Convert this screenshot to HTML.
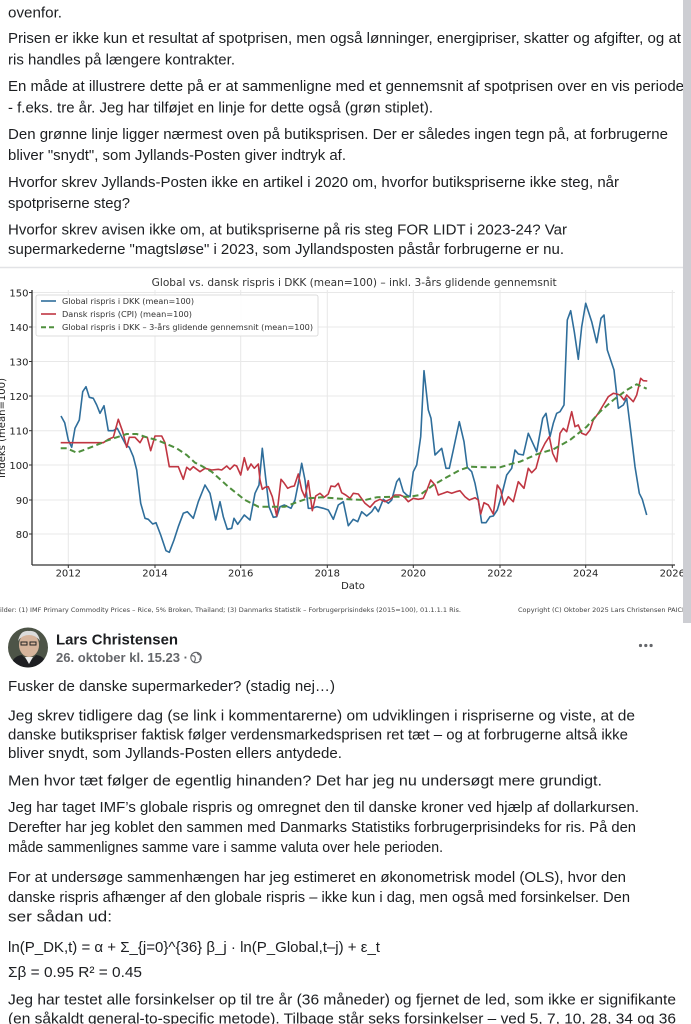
<!DOCTYPE html>
<html><head><meta charset="utf-8"><style>
html,body{margin:0;padding:0;background:#fff;}
svg{display:block;}
.t{font-family:"Liberation Sans",Arial,sans-serif;font-size:15px;fill:#1c1e21;}
.c{font-family:"DejaVu Sans","Liberation Sans",sans-serif;}
</style></head><body>
<svg width="691" height="1024" viewBox="0 0 691 1024" xmlns="http://www.w3.org/2000/svg">
<rect width="691" height="1024" fill="#fff"/>
<!-- top text -->
<g class="t">
<text x="8" y="17.5" textLength="54" lengthAdjust="spacingAndGlyphs">ovenfor.</text>
<text x="8" y="43" textLength="673" lengthAdjust="spacingAndGlyphs">Prisen er ikke kun et resultat af spotprisen, men også lønninger, energipriser, skatter og afgifter, og at</text>
<text x="8" y="64.5" textLength="227" lengthAdjust="spacingAndGlyphs">ris handles på længere kontrakter.</text>
<text x="8" y="91" textLength="676" lengthAdjust="spacingAndGlyphs">En måde at illustrere dette på er at sammenligne med et gennemsnit af spotprisen over en vis periode</text>
<text x="8" y="112.5" textLength="425" lengthAdjust="spacingAndGlyphs">- f.eks. tre år. Jeg har tilføjet en linje for dette også (grøn stiplet).</text>
<text x="8" y="139" textLength="660" lengthAdjust="spacingAndGlyphs">Den grønne linje ligger nærmest oven på butiksprisen. Der er således ingen tegn på, at forbrugerne</text>
<text x="8" y="160" textLength="338" lengthAdjust="spacingAndGlyphs">bliver "snydt", som Jyllands-Posten giver indtryk af.</text>
<text x="8" y="187" textLength="611" lengthAdjust="spacingAndGlyphs">Hvorfor skrev Jyllands-Posten ikke en artikel i 2020 om, hvorfor butikspriserne ikke steg, når</text>
<text x="8" y="208" textLength="122" lengthAdjust="spacingAndGlyphs">spotpriserne steg?</text>
<text x="8" y="234.5" textLength="559" lengthAdjust="spacingAndGlyphs">Hvorfor skrev avisen ikke om, at butikspriserne på ris steg FOR LIDT i 2023-24? Var</text>
<text x="8" y="254" textLength="556" lengthAdjust="spacingAndGlyphs">supermarkederne "magtsløse" i 2023, som Jyllandsposten påstår forbrugerne er nu.</text>
</g>
<line x1="0" y1="267.5" x2="691" y2="267.5" stroke="#e2e3e6" stroke-width="1.5"/>

<!-- chart -->
<g class="c">
<text x="151.7" y="286" font-size="10.5" fill="#333" textLength="405" lengthAdjust="spacingAndGlyphs">Global vs. dansk rispris i DKK (mean=100) – inkl. 3-års glidende gennemsnit</text>
<!-- grid -->
<g stroke="#e8e8e8" stroke-width="1">
<line x1="32" y1="292.5" x2="675" y2="292.5"/>
<line x1="32" y1="327" x2="675" y2="327"/>
<line x1="32" y1="361.5" x2="675" y2="361.5"/>
<line x1="32" y1="396" x2="675" y2="396"/>
<line x1="32" y1="430.7" x2="675" y2="430.7"/>
<line x1="32" y1="465" x2="675" y2="465"/>
<line x1="32" y1="500" x2="675" y2="500"/>
<line x1="32" y1="534" x2="675" y2="534"/>
<line x1="68.3" y1="290" x2="68.3" y2="565"/>
<line x1="155" y1="290" x2="155" y2="565"/>
<line x1="240.7" y1="290" x2="240.7" y2="565"/>
<line x1="327.3" y1="290" x2="327.3" y2="565"/>
<line x1="413.3" y1="290" x2="413.3" y2="565"/>
<line x1="500" y1="290" x2="500" y2="565"/>
<line x1="585.7" y1="290" x2="585.7" y2="565"/>
<line x1="672.3" y1="290" x2="672.3" y2="565"/>
</g>
<!-- spines -->
<line x1="32" y1="290" x2="32" y2="565" stroke="#333" stroke-width="1.3"/>
<line x1="32" y1="565" x2="675" y2="565" stroke="#333" stroke-width="1.3"/>
<g stroke="#333" stroke-width="1">
<line x1="29" y1="292.5" x2="32" y2="292.5"/><line x1="29" y1="327" x2="32" y2="327"/><line x1="29" y1="361.5" x2="32" y2="361.5"/><line x1="29" y1="396" x2="32" y2="396"/><line x1="29" y1="430.7" x2="32" y2="430.7"/><line x1="29" y1="465" x2="32" y2="465"/><line x1="29" y1="500" x2="32" y2="500"/><line x1="29" y1="534" x2="32" y2="534"/>
<line x1="68.3" y1="565" x2="68.3" y2="568"/><line x1="155" y1="565" x2="155" y2="568"/><line x1="240.7" y1="565" x2="240.7" y2="568"/><line x1="327.3" y1="565" x2="327.3" y2="568"/><line x1="413.3" y1="565" x2="413.3" y2="568"/><line x1="500" y1="565" x2="500" y2="568"/><line x1="585.7" y1="565" x2="585.7" y2="568"/><line x1="672.3" y1="565" x2="672.3" y2="568"/>
</g>
<g font-size="10" fill="#222" text-anchor="end">
<text x="28.5" y="296.5">150</text><text x="28.5" y="331">140</text><text x="28.5" y="365.5">130</text><text x="28.5" y="400">120</text><text x="28.5" y="434.7">110</text><text x="28.5" y="469">100</text><text x="28.5" y="504">90</text><text x="28.5" y="538">80</text>
</g>
<g font-size="10" fill="#222" text-anchor="middle">
<text x="68.3" y="576.5">2012</text><text x="155" y="576.5">2014</text><text x="240.7" y="576.5">2016</text><text x="327.3" y="576.5">2018</text><text x="413.3" y="576.5">2020</text><text x="500" y="576.5">2022</text><text x="585.7" y="576.5">2024</text><text x="672.3" y="576.5">2026</text>
<text x="353" y="589">Dato</text>
</g>
<text transform="translate(5,428) rotate(-90)" font-size="10" fill="#222" text-anchor="middle" textLength="100" lengthAdjust="spacingAndGlyphs">Indeks (mean=100)</text>

<!-- series -->
<polyline fill="none" stroke="#2f6e9b" stroke-width="1.6" stroke-linejoin="round" points="61,416 64.7,422.7 68.3,440 71.7,447.3 75,428.3 79.3,420 82.7,391.7 86,386.7 89.3,397.3 93.3,398.3 96.7,405 100,413.3 104,405.7 108.3,430.7 113.3,430.7 117.3,428.3 120.7,435 126,445 129.3,447.3 133.3,456.7 136.7,470 140.7,503.3 145,518.3 148.3,519.3 152.7,524 156,522.7 160.7,535 166,550.7 169.3,552.3 174,540 178.3,526.7 183.3,513.3 187.3,511.7 193.3,518.3 198.3,501.7 205,485 210,493.3 215.7,520 220,501.7 223.3,516.7 227.3,529.3 231.7,528.3 234,518.3 237.7,524.3 244.3,515 250,520 255,493.3 259,485 262.3,448.3 265.7,478.3 269,506.7 273.3,517.3 276.7,516.7 280,506.7 284.3,505 291,508.3 295,500 298.3,483.3 301.7,463.3 305,480 308.3,508.3 312.3,508.3 316.7,506.7 323.3,508.3 328.3,510 333.3,519.3 338.3,505 343.3,501.7 348.3,525.7 353.3,519.3 357.7,521.7 361.7,511.7 366.7,516 371.7,511.7 375,506.7 378.3,511.7 383.3,499.3 388.3,503.3 391.7,500 396.7,481.7 399.3,478.3 403.3,491.7 406.7,495 410,496.7 413.3,471.7 416.7,465 420.7,436.7 424,370.7 428.3,410 431,418.3 435,455 441.7,448.3 446,468.3 449.3,468.3 453.3,450 459.3,421.7 464,441.7 467.3,467.3 471.7,471.7 475,483.3 478.3,500 481.7,522.7 486,522.7 490,516.7 493.3,516 497.3,510 501.7,495 506.7,475 511.7,468.3 515,450 518.3,454 523.3,455 528.3,433.3 536.7,451.7 542.7,418.3 546,413.3 550,436.7 553.3,423.3 556.7,413.3 560,411.7 564,405 567.3,320 570.7,310.7 574.3,331.7 578.3,359.3 581.7,326.7 585.7,303.3 591.7,321.7 596.7,342.7 601,318.3 604,315 607.3,350 614,370 618.3,408.3 623.3,405 626.7,398.3 631,433.3 635,466.7 639.3,493.3 642.3,499.3 646.7,515"/>
<polyline fill="none" stroke="#c03642" stroke-width="1.6" stroke-linejoin="round" points="60.7,442.7 103.3,442.7 108.3,439.3 113.3,437.3 118.3,419.3 122.7,431.7 126.7,447.3 129.3,437.3 135,437.3 140,442.7 143.3,436.7 147.3,437.3 150.7,450.7 155,436 161.7,436 165,442.7 169.3,466.7 178.3,466.7 183.3,479.3 186.7,467.3 190,470 193.3,466.7 200,471.7 205,468.3 211.7,470 218.3,469.3 221.7,470 226.7,466 230,469.3 234.3,465 236.7,466 240.7,475 244.3,457.7 247.7,470 251,464 254.3,468.3 258.3,464 260,480 262.3,489.3 265,487.3 268.3,486.7 272.3,496.7 276.7,516 281,479.3 284.3,483.3 287.7,488.3 291,486.7 294.3,486 298.3,474 301.7,490 305,497.3 308.3,480.7 312.3,510.7 315.7,496 320,493.3 324.3,497.3 328.3,494 331,486 335,486.7 338.3,483.3 341.7,492.7 345.7,495 350,498.3 353.3,493.3 358.3,494 365,503.3 370,507.3 375,501.7 380,499.3 385,501.7 390,499.3 395,495 400,495 404,496.7 408.3,501.7 413.3,498.3 418.3,499.3 423.3,498.3 426.7,490.7 430.7,480 435,485 438.3,495 443.3,493.3 447.3,491.7 451.7,493.3 456,491.7 460,490.7 465,496.7 469.3,500 475,497.7 478.3,500 480.7,514 484,502.7 488.3,505 493.3,514 497.3,485 500.7,490 504,505 508.3,496.7 513.3,501.7 518.3,481.7 524,488.3 528.3,468.3 531.7,472.7 536,468.3 540,453.3 545,443.3 549.3,436.7 552.7,453.3 556.7,461.7 560,433.3 563.3,428.3 566.7,431.7 571.7,411.7 575,426.7 578.3,425 581.7,433.3 586,435 590,430 593.3,420 598.3,413.3 603.3,405 608.3,396.7 613.3,393.3 616.7,394 620,395 624,400 626.7,395 630,398.3 633.3,401.7 636.7,395 640.7,378.3 643.3,380.7 647.3,381"/>
<polyline fill="none" stroke="#4f8f3d" stroke-width="2" stroke-dasharray="6,3.5" stroke-linejoin="round" points="60.7,448.3 66.7,448.3 76.7,452.7 96.7,445 106.7,440.7 116.7,437.3 126.7,434 136.7,434 146.7,437.3 156.7,440 166.7,444 176.7,448.3 186.7,455 195,462.7 200,465 211.7,471.7 228.3,486.7 245,500 258.3,506.7 271.7,506.7 285,506.7 298.3,501.7 308.3,498.3 321.7,497.3 335,498.3 348.3,499.3 365,500 376.7,497.3 393.3,496.7 410,496.7 420,495 433.3,485 446.7,477.3 460,470 470,466.7 486.7,467.3 500,467.3 513.3,463.3 520,461.7 536.7,454.3 553.3,449.3 570,440 586.7,426.7 600,411.7 613.3,400 626.7,390 636.7,384.3 646.7,388.7"/>

<!-- legend -->
<rect x="36" y="295" width="282" height="41" rx="2" fill="#fff" fill-opacity="0.9" stroke="#d4d4d4" stroke-width="0.8"/>
<line x1="41" y1="301" x2="56" y2="301" stroke="#2f6e9b" stroke-width="1.6"/>
<line x1="41" y1="314" x2="56" y2="314" stroke="#c03642" stroke-width="1.6"/>
<line x1="41" y1="327.3" x2="57" y2="327.3" stroke="#4f8f3d" stroke-width="2" stroke-dasharray="5,3"/>
<g font-size="7.5" fill="#333">
<text x="62" y="303.8" textLength="132" lengthAdjust="spacingAndGlyphs">Global rispris i DKK (mean=100)</text>
<text x="62" y="316.8" textLength="130" lengthAdjust="spacingAndGlyphs">Dansk rispris (CPI) (mean=100)</text>
<text x="62" y="330" textLength="251" lengthAdjust="spacingAndGlyphs">Global rispris i DKK – 3-års glidende gennemsnit (mean=100)</text>
</g>
<!-- footer -->
<text x="0" y="612" font-size="6.3" fill="#444" textLength="461" lengthAdjust="spacingAndGlyphs">ilder: (1) IMF Primary Commodity Prices – Rice, 5% Broken, Thailand; (3) Danmarks Statistik – Forbrugerprisindeks (2015=100), 01.1.1.1 Ris.</text>
<text x="518" y="612" font-size="6.3" fill="#444" textLength="166" lengthAdjust="spacingAndGlyphs">Copyright (C) Oktober 2025 Lars Christensen PAICI</text>
</g>
<!-- right strip -->
<rect x="683" y="0" width="8" height="623" fill="#cdced3"/>

<!-- post header -->
<defs><clipPath id="av"><circle cx="28" cy="647.5" r="20"/></clipPath></defs>
<g clip-path="url(#av)">
<rect x="8" y="627" width="40" height="41" fill="#4d5447"/>
<ellipse cx="29" cy="645" rx="10" ry="12" fill="#d6b49c"/>
<path d="M18 641 Q20 630 29 631 Q38 630 40 641 Q36 635 29 635 Q22 635 18 641Z" fill="#dcdcdc"/>
<rect x="21" y="642" width="6" height="3" fill="none" stroke="#222" stroke-width="1"/>
<rect x="30" y="642" width="6" height="3" fill="none" stroke="#222" stroke-width="1"/>
<path d="M10 668 Q12 656 22 655 L29 662 L36 655 Q46 656 48 668Z" fill="#1e1f22"/>
<path d="M25 657 L29 664 L33 657Z" fill="#eee"/>
</g>
<text x="56" y="644.5" font-family="Liberation Sans,Arial,sans-serif" font-size="15" font-weight="bold" fill="#1c1e21" textLength="122" lengthAdjust="spacingAndGlyphs">Lars Christensen</text>
<text x="56" y="662" font-family="Liberation Sans,Arial,sans-serif" font-size="13" font-weight="bold" fill="#65676b" textLength="132" lengthAdjust="spacingAndGlyphs">26. oktober kl. 15.23 ·</text>
<g fill="none" stroke="#65676b" stroke-width="1.1">
<circle cx="196" cy="657.5" r="5.2"/>
<path d="M191 656 Q194 655 195 657 Q196 660 194 662 M197 652.5 Q198 655 200 655 Q201 657 199.5 660"/>
</g>
<g fill="#65676b"><circle cx="640.5" cy="645.5" r="1.6"/><circle cx="645.8" cy="645.5" r="1.6"/><circle cx="651.1" cy="645.5" r="1.6"/></g>

<!-- post text -->
<g class="t">
<text x="8" y="691" textLength="327" lengthAdjust="spacingAndGlyphs">Fusker de danske supermarkeder? (stadig nej…)</text>
<text x="8" y="720.5" textLength="627" lengthAdjust="spacingAndGlyphs">Jeg skrev tidligere dag (se link i kommentarerne) om udviklingen i rispriserne og viste, at de</text>
<text x="8" y="739.5" textLength="620" lengthAdjust="spacingAndGlyphs">danske butikspriser faktisk følger verdensmarkedsprisen ret tæt – og at forbrugerne altså ikke</text>
<text x="8" y="758" textLength="334" lengthAdjust="spacingAndGlyphs">bliver snydt, som Jyllands-Posten ellers antydede.</text>
<text x="8" y="785.5" textLength="594" lengthAdjust="spacingAndGlyphs">Men hvor tæt følger de egentlig hinanden? Det har jeg nu undersøgt mere grundigt.</text>
<text x="8" y="812" textLength="631" lengthAdjust="spacingAndGlyphs">Jeg har taget IMF’s globale rispris og omregnet den til danske kroner ved hjælp af dollarkursen.</text>
<text x="8" y="832" textLength="628" lengthAdjust="spacingAndGlyphs">Derefter har jeg koblet den sammen med Danmarks Statistiks forbrugerprisindeks for ris. På den</text>
<text x="8" y="852" textLength="435" lengthAdjust="spacingAndGlyphs">måde sammenlignes samme vare i samme valuta over hele perioden.</text>
<text x="8" y="882" textLength="618" lengthAdjust="spacingAndGlyphs">For at undersøge sammenhængen har jeg estimeret en økonometrisk model (OLS), hvor den</text>
<text x="8" y="902" textLength="622" lengthAdjust="spacingAndGlyphs">danske rispris afhænger af den globale rispris – ikke kun i dag, men også med forsinkelser. Den</text>
<text x="8" y="921.5" textLength="104" lengthAdjust="spacingAndGlyphs">ser sådan ud:</text>
<text x="8" y="952" textLength="372" lengthAdjust="spacingAndGlyphs">ln(P_DK,t) = α + Σ_{j=0}^{36} β_j · ln(P_Global,t–j) + ε_t</text>
<text x="8" y="977" textLength="134" lengthAdjust="spacingAndGlyphs">Σβ = 0.95  R² = 0.45</text>
<text x="8" y="1004.5" textLength="668" lengthAdjust="spacingAndGlyphs">Jeg har testet alle forsinkelser op til tre år (36 måneder) og fjernet de led, som ikke er signifikante</text>
<text x="8" y="1023.5" textLength="668" lengthAdjust="spacingAndGlyphs">(en såkaldt general-to-specific metode). Tilbage står seks forsinkelser – ved 5, 7, 10, 28, 34 og 36</text>
</g>
</svg>
</body></html>
